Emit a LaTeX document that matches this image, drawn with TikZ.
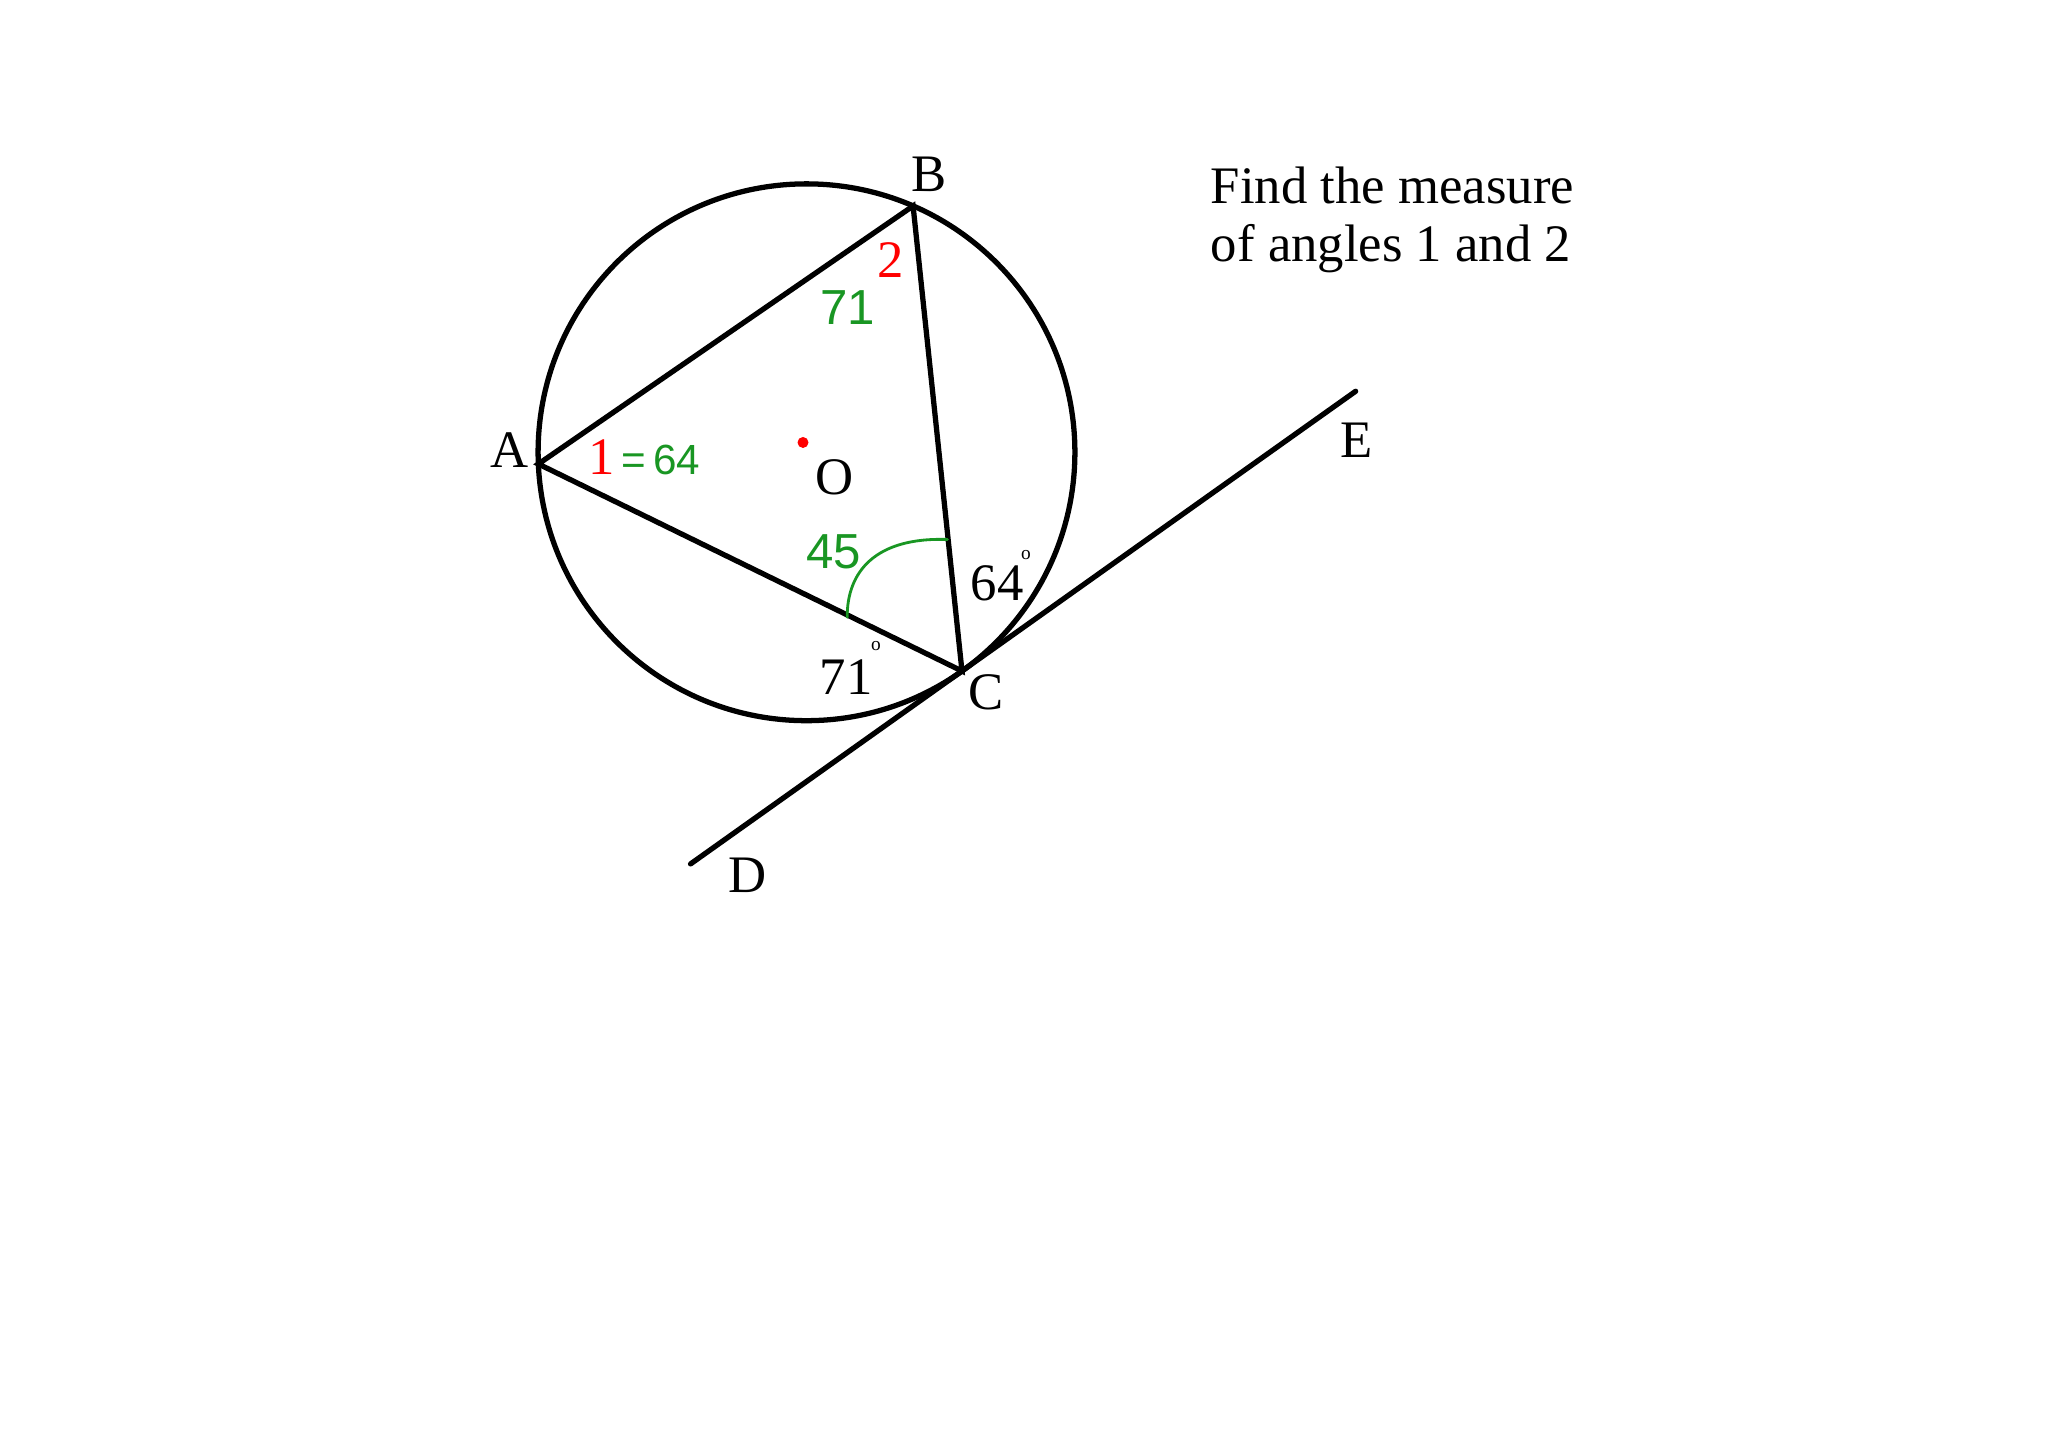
\documentclass[tikz,border=0pt]{standalone}
\usepackage{fontspec}
\setmainfont{Liberation Serif}
\newfontfamily\handfont{Liberation Sans}
\usepackage{tikz}
\usetikzlibrary{calc}
\definecolor{penred}{RGB}{255,0,0}
\definecolor{pengreen}{RGB}{25,150,35}

\begin{document}
\begin{tikzpicture}[line width=1.5pt, line cap=round,
    lbl/.style={font=\fontsize{15}{16.4}\selectfont, inner sep=0pt},
    degsign/.style={font=\fontsize{5.5}{5.5}\selectfont, inner sep=0pt},
    hand/.style={text=pengreen, font=\handfont\fontsize{14}{14}\selectfont, inner sep=0pt}]
  \useasboundingbox (0,0) rectangle (20.48,14.47);
  % circle and points on it
  \coordinate (O) at (8.065,9.947);
  \coordinate (A) at ($(O)+(182.5:2.684)$);
  \coordinate (B) at ($(O)+(66.6:2.684)$);
  \coordinate (C) at ($(O)+(-54.6:2.684)$);
  \coordinate (D) at ($(C)+(215.4:3.33)$);
  \coordinate (E) at ($(C)+(35.4:4.83)$);
  \draw (O) circle (2.684);
  \draw[line join=miter] (A) -- (B) -- (C) -- cycle;
  \draw (D) -- (E);
  \node[circle, fill=penred, inner sep=0pt, minimum size=0.11cm] (odot) at (8.03,10.045) {};
  % letters
  \node[lbl] (la) at (5.093,9.97) {A};
  \node[lbl] (lb) at (9.286,12.726) {B};
  \node[lbl] (lc) at (9.86,7.545) {C};
  \node[lbl] (ld) at (7.475,5.712) {D};
  \node[lbl] (le) at (13.567,10.07) {E};
  \node[lbl] (lo) at (8.35,9.70) {O};
  % angles
  \node[lbl, text=penred] (one) at (6.02,9.90) {1};
  \node[lbl, text=penred] (two) at (8.91,11.87) {2};
  \node[lbl] (sixtyfour) at (9.97,8.64) {64};
  \node[degsign] (degA) at (10.26,8.92) {o};
  \node[lbl] (seventyone) at (8.46,7.70) {71};
  \node[degsign] (degB) at (8.76,8.01) {o};
  % working in green
  \node[hand, font=\handfont\fontsize{12}{12}\selectfont, anchor=west] (eqone) at (6.19,9.87) {=\,64};
  \node[hand] (eqtwo) at (8.48,11.39) {71};
  \node[hand] (eqc) at (8.34,8.95) {45};
  \draw[pengreen, line width=0.8pt] (8.472,8.298) .. controls (8.47,8.75) and (8.75,9.1) .. (9.475,9.075);
  % question
  \node[lbl, anchor=base west] (qone) at (12.083,12.43) {Find the measure};
  \node[lbl, anchor=base west] (qtwo) at (12.083,11.853) {of angles 1 and 2};
\end{tikzpicture}
\end{document}
